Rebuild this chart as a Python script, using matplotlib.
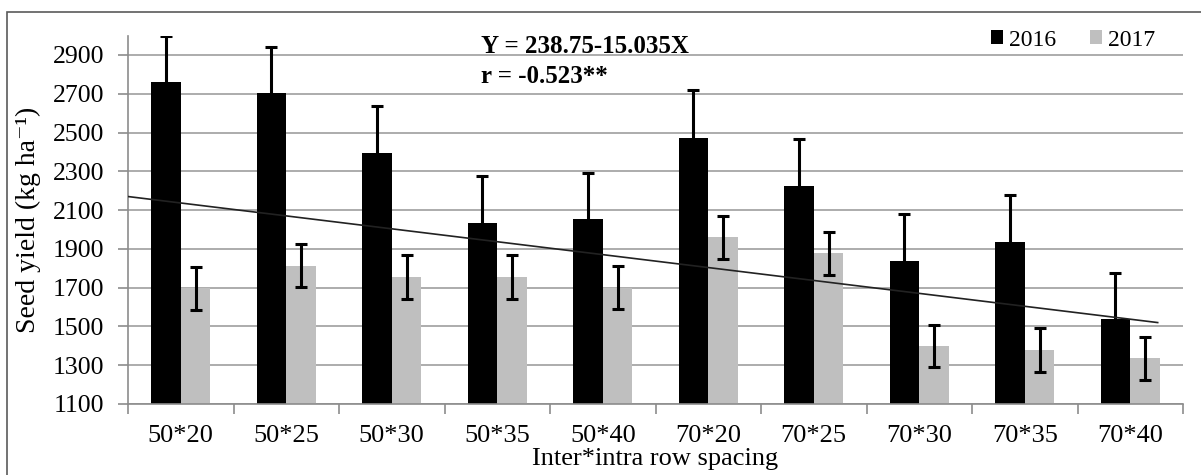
import matplotlib
matplotlib.use('Agg')
import matplotlib.pyplot as plt
from matplotlib.patches import Rectangle
import numpy as np

# values
spacing = ['50*20', '50*25', '50*30', '50*35', '50*40',
           '70*20', '70*25', '70*30', '70*35', '70*40']
yield_2016 = [2762, 2702, 2393, 2032, 2052, 2473, 2226, 1839, 1937, 1537]
err_2016 = [237, 241, 245, 245, 238, 246, 239, 239, 241, 240]
yield_2017 = [1697, 1813, 1757, 1757, 1700, 1960, 1877, 1399, 1378, 1336]
err_2017 = [111, 110, 113, 113, 112, 110, 112, 110, 112, 110]
trend_x = [-0.5, 9.26]
trend_y = [2170, 1520]
yticks = [1100, 1300, 1500, 1700, 1900, 2100, 2300, 2500, 2700, 2900]

plt.rcParams['font.family'] = ['Liberation Serif', 'DejaVu Serif']

W, H = 1201, 475
fig = plt.figure(figsize=(W / 100, H / 100), dpi=100)
ax = fig.add_axes([128 / W, 1 - 404 / H, (1183 - 128) / W, (404 - 35.6) / H])

x = np.arange(len(spacing))
bw = 0.28
ax.bar(x - bw / 2, yield_2016, bw, color='black', label='2016', zorder=2)
ax.bar(x + bw / 2, yield_2017, bw, color='#bfbfbf', label='2017', zorder=2)
ax.errorbar(x - bw / 2, yield_2016, yerr=err_2016, fmt='none', ecolor='black',
            elinewidth=2.2, capsize=4, capthick=2.2, zorder=3)
ax.errorbar(x + bw / 2, yield_2017, yerr=err_2017, fmt='none', ecolor='black',
            elinewidth=2.2, capsize=4, capthick=2.2, zorder=3)
ax.plot(trend_x, trend_y, color='#222222', lw=1.2, zorder=4)

ax.set_xlim(-0.5, len(spacing) - 0.5)
ax.set_ylim(1100, 3000)
ax.set_yticks(yticks)
ax.set_xticks(x)
ax.set_xticklabels(spacing, fontsize=19)
ax.set_xticks(np.arange(len(spacing) + 1) - 0.5, minor=True)
ax.tick_params(axis='x', which='major', length=0, pad=15)
ax.tick_params(axis='x', which='minor', length=7, color='#8c8c8c', width=1.2)
ax.tick_params(axis='y', length=7, color='#8c8c8c', width=1.2, labelsize=18.5, pad=10)
ax.yaxis.grid(True, color='#a6a6a6', lw=1.3, zorder=0)
ax.set_axisbelow(True)
for s in ['top', 'right']:
    ax.spines[s].set_visible(False)
for s in ['left', 'bottom']:
    ax.spines[s].set_color('#8c8c8c')
    ax.spines[s].set_linewidth(1.2)

ax.set_ylabel('Seed yield (kg ha\u207b\u00b9)', fontsize=20)
ax.yaxis.set_label_coords((41 - 128) / 1055, 0.5)
ax.set_xlabel('Inter*intra row spacing', fontsize=19, labelpad=0.5)

fig.text(481 / W, 1 - 52.7 / H, 'Y = 238.75-15.035X', fontsize=18,
         fontweight='bold', va='baseline', ha='left')
fig.text(481 / W, 1 - 83 / H, 'r = -0.523**', fontsize=18,
         fontweight='bold', va='baseline', ha='left')

fig.legend(loc='center left', bbox_to_anchor=(991 / W, 1 - 40 / H), ncol=2,
           frameon=False, fontsize=17, handlelength=0.5, handleheight=0.55,
           handletextpad=0.25, columnspacing=1.45, borderpad=0, borderaxespad=0)

fig.add_artist(Rectangle((6.5 / W, -0.1), 1.2, 1.1 - 12 / H, transform=fig.transFigure,
                         fill=False, ec='#5a5a5a', lw=1.2))

plt.savefig('out.png', dpi=100)
plt.close()
